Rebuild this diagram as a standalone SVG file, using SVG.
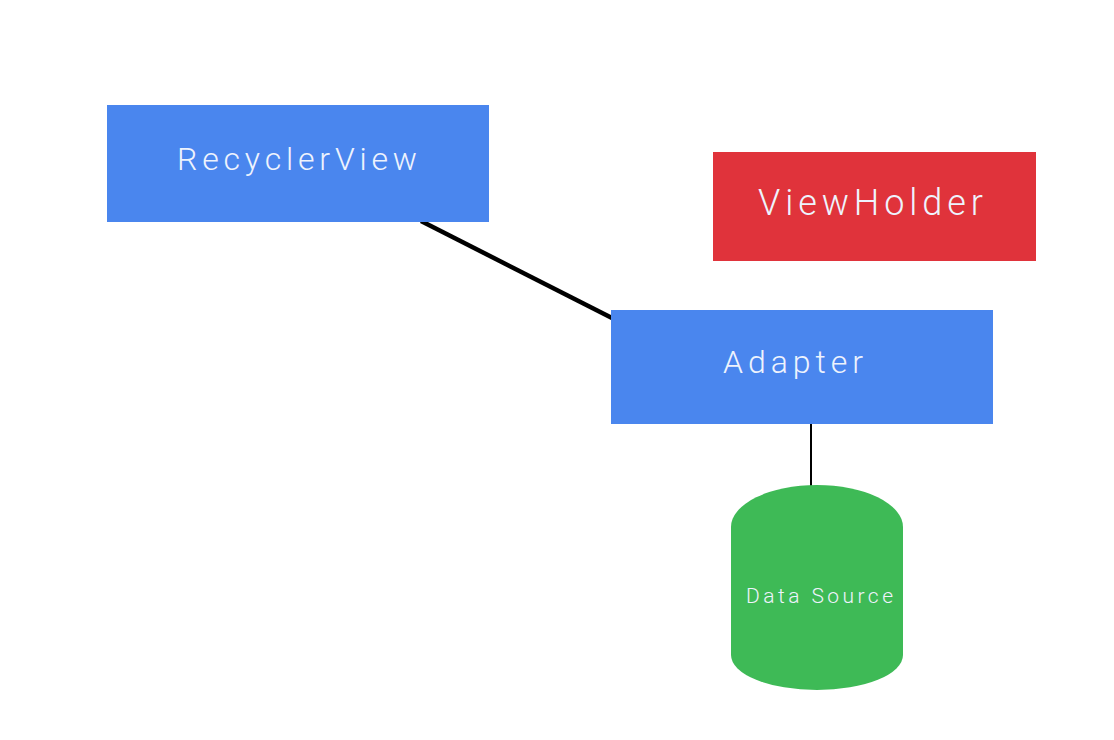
<svg xmlns="http://www.w3.org/2000/svg" width="1114" height="740" viewBox="0 0 1114 740">
<style>
.lbl{font-family:Roboto,"Liberation Sans",sans-serif;font-weight:300;fill:#EEF3FD;text-anchor:middle}
.blue{fill:#4A86EE}
.conn{stroke:#000;fill:none}
</style>
<rect width="1114" height="740" fill="#FFFFFF"/>
<g id="connectors">
<line class="conn" x1="421" y1="221" x2="612" y2="318" stroke-width="4.5"/>
<line class="conn" x1="811" y1="423" x2="811" y2="487" stroke-width="2"/>
</g>
<g id="recyclerview">
<rect class="blue" x="107" y="105" width="382" height="117"/>
<text class="lbl" x="297" y="170" font-size="32" textLength="240" lengthAdjust="spacing">RecyclerView</text>
</g>
<g id="viewholder">
<rect x="713" y="152" width="323" height="109" fill="#E0333B"/>
<text class="lbl" x="870.5" y="215" font-size="36" textLength="225" lengthAdjust="spacing">ViewHolder</text>
</g>
<g id="adapter">
<rect class="blue" x="611" y="310" width="382" height="114"/>
<text class="lbl" x="793" y="373" font-size="32" textLength="140" lengthAdjust="spacing">Adapter</text>
</g>
<g id="datasource">
<path d="M731,527 A86,42 0 0 1 903,527 L903,655 A86,35 0 0 1 731,655 Z" fill="#3EBA56"/>
<text class="lbl" x="819.5" y="603" font-size="21" textLength="147" lengthAdjust="spacing">Data Source</text>
</g>
</svg>
